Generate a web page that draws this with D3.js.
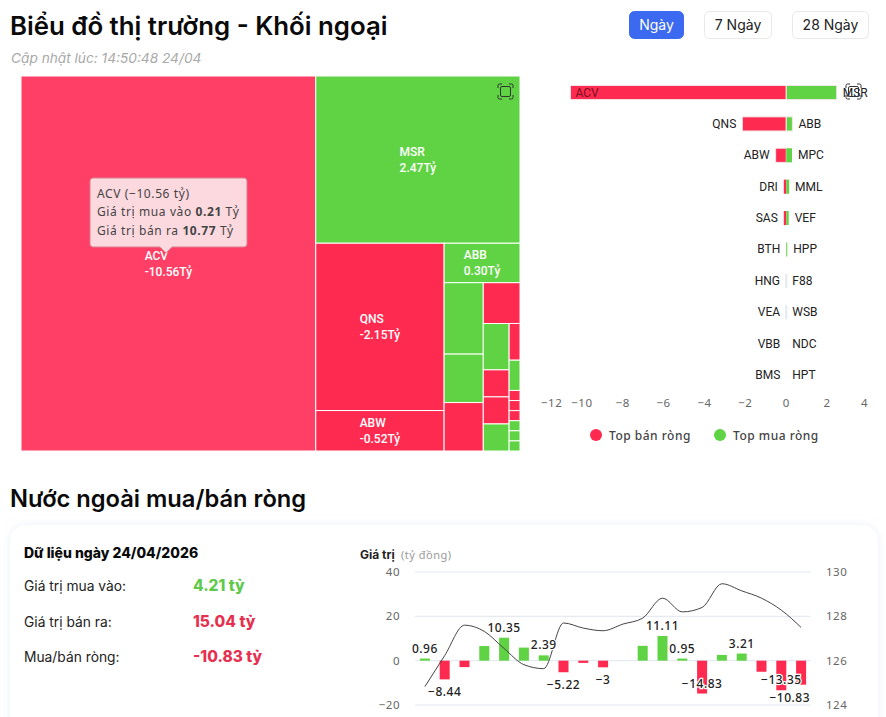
<!DOCTYPE html>
<html lang="vi">
<head>
<meta charset="utf-8">
<script src="https://cdn.jsdelivr.net/npm/d3@7"></script>
<style>
  html, body { margin: 0; padding: 0; background: #fff; overflow: hidden; }
  svg { display: block; font-family: Inter, sans-serif; }
  .lbl { font-family: Roboto, sans-serif; }
  .soft { font-family: "Noto Sans", sans-serif; letter-spacing: .5px; }
</style>
</head>
<body>
<svg id="chart" width="886" height="717"></svg>
<script>
var red = "#ff2a50", redHover = "#ff3f66", green = "#5fd343"

// treemap tiles, area in ty (not the same as net value)
var tileNames = ["ACV", "MSR", "QNS", "ABW", "ABB", "MPC", "MML", "DRI", "SAS", "VEF", "BTH", "HNG", "HPP", "VEA", "F88", "VBB", "BMS", "HUT", "WSB", "NDC", "HPT"]
var tileSizes = [11.07, 3.42, 2.15, 0.52, 0.30, 0.28, 0.19, 0.19, 0.15, 0.12, 0.07, 0.07, 0.07, 0.04, 0.033, 0.011, 0.011, 0.011, 0.011, 0.011, 0.011]
var tileSigns = [-1, 1, -1, -1, 1, 1, 1, -1, -1, 1, -1, -1, 1, -1, 1, -1, -1, -1, 1, 1, 1]
var tileLabels = { ACV: "-10.56Tỷ", MSR: "2.47Tỷ", QNS: "-2.15Tỷ", ABW: "-0.52Tỷ", ABB: "0.30Tỷ" }
// how many tiles go in each strip of the treemap, strips alternate column / row
var tileStrips = [1, 1, 2, 1, 3, 1, 4, 8]

// top sell / top buy bars
var sellNames = ["ACV", "QNS", "ABW", "DRI", "SAS", "BTH", "HNG", "VEA", "VBB", "BMS"]
var sellValues = [-10.56, -2.15, -0.52, -0.12, -0.12, 0, -0.01, -0.01, 0, 0]
var buyNames = ["MSR", "ABB", "MPC", "MML", "VEF", "HPP", "F88", "WSB", "NDC", "HPT"]
var buyValues = [2.47, 0.30, 0.28, 0.14, 0.12, 0.05, 0, 0, 0, 0]
var barTicks = [-12, -10, -8, -6, -4, -2, 0, 2, 4]

// foreign net flow
var netValues = [0.96, -8.44, -2.9, 6.6, 10.35, 5.9, 2.39, -5.22, -1, -3, 0, 6.7, 11.11, 0.95, -14.83, 2.6, 3.21, -5, -13.35, -10.83]
var priceValues = [124.83, 126.23, 127.6, 127.32, 126.55, 125.82, 125.64, 127.7, 127.47, 127.35, 127.65, 127.92, 128.82, 128.2, 128.4, 129.47, 129.15, 128.82, 128.28, 127.5]
var labelled = [0.96, -8.44, 10.35, 2.39, -5.22, -3, 11.11, 0.95, -14.83, 3.21, -13.35, -10.83]
var netTicks = [40, 20, 0, -20]
var priceTicks = [130, 128, 126, 124]

var svg = d3.select("#chart")

function txt(x, y, s, size, weight, fill, cls) {
  return svg.append("text").attr("x", x).attr("y", y).text(s)
    .attr("font-size", size).attr("font-weight", weight).attr("fill", fill)
    .attr("class", cls || null)
}

// headers
txt(10, 35, "Biểu đồ thị trường - Khối ngoại", 25.8, 600, "#0a0a0a")
txt(11, 63, "Cập nhật lúc: 14:50:48 24/04", 13.7, 400, "#a9a9a9").attr("font-style", "italic")
txt(10, 507, "Nước ngoài mua/bán ròng", 23.7, 600, "#0a0a0a")

var buttons = [["Ngày", 629, 55], ["7 Ngày", 704, 68], ["28 Ngày", 792, 77]]
buttons.forEach(function(b, i) {
  svg.append("rect").attr("x", b[1] + .5).attr("y", 11.5).attr("width", b[2] - 1).attr("height", 27).attr("rx", 5)
    .attr("fill", i == 0 ? "#3b69f0" : "#fff").attr("stroke", i == 0 ? "#3b69f0" : "#e8e8ea")
  txt(b[1] + b[2] / 2, 30, b[0], 14, 400, i == 0 ? "#fff" : "#222").attr("text-anchor", "middle")
})

// treemap
function stripTile(parent, x0, y0, x1, y1) {
  var nodes = parent.children, start = 0
  var left = d3.sum(nodes, function(d) { return d.value })
  tileStrips.forEach(function(count, i) {
    var strip = { children: nodes.slice(start, start + count), value: 0 }
    strip.value = d3.sum(strip.children, function(d) { return d.value })
    var share = strip.value / left
    if (i % 2 == 0 || i == tileStrips.length - 1) {
      var xm = x0 + (x1 - x0) * share
      d3.treemapSlice(strip, x0, y0, xm, y1)
      x0 = xm
    } else {
      var ym = y0 + (y1 - y0) * share
      d3.treemapDice(strip, x0, y0, x1, ym)
      y0 = ym
    }
    left -= strip.value
    start += count
  })
}
var tileData = tileNames.map(function(n, i) { return { name: n, size: tileSizes[i], sign: tileSigns[i] } })
var root = d3.hierarchy({ children: tileData }).sum(function(d) { return d.size })
  .sort(function(a, b) { return b.value - a.value })
d3.treemap().size([499, 375]).tile(stripTile)(root)

var tree = svg.append("g").attr("transform", "translate(21,76)")
var tiles = tree.selectAll("g").data(root.leaves()).enter().append("g")
tiles.append("rect")
  .attr("x", function(d) { return d.x0 }).attr("y", function(d) { return d.y0 })
  .attr("width", function(d) { return d.x1 - d.x0 }).attr("height", function(d) { return d.y1 - d.y0 })
  .attr("stroke", "#fff").attr("stroke-width", 1)
  .attr("fill", function(d) {
    if (d.data.name == "ACV") return redHover
    return d.data.sign < 0 ? red : green
  })
tiles.filter(function(d) { return tileLabels[d.data.name] }).each(function(d) {
  var g = d3.select(this), cx = (d.x0 + d.x1) / 2, cy = (d.y0 + d.y1) / 2
  var t = g.append("text").attr("class", "lbl").attr("font-size", 12).attr("font-weight", 500).attr("fill", "#fff")
  t.append("tspan").attr("dy", 0).attr("y", cy - 4).text(d.data.name)
  var v = t.append("tspan").attr("y", cy + 12).text(tileLabels[d.data.name])
  var w = v.node().getComputedTextLength()
  t.selectAll("tspan").attr("x", cx - w / 2)
})

function focusIcon(x, y) {
  var g = svg.append("g").attr("transform", "translate(" + x + "," + y + ")")
    .attr("fill", "none").attr("stroke", "#333").attr("stroke-width", 1)
  g.append("path").attr("d", "M0 4V1.5Q0 0 1.5 0H4M11 0H13.5Q15 0 15 1.5V4M15 11V13.5Q15 15 13.5 15H11M4 15H1.5Q0 15 0 13.5V11")
  g.append("rect").attr("x", 2.5).attr("y", 2.5).attr("width", 10).attr("height", 10).attr("rx", 1.5)
}
focusIcon(498, 84)

// tooltip
var tip = svg.append("g").attr("transform", "translate(90,178)")
tip.append("path").attr("d", "M3 0H154Q157 0 157 3V66Q157 69 154 69H82L76 75L70 69H3Q0 69 0 66V3Q0 0 3 0Z")
  .attr("fill", "#fcd8df").attr("stroke", "#d9808f").attr("stroke-width", 1)
function tipLine(y, parts) {
  var t = tip.append("text").attr("class", "soft").attr("x", 7).attr("y", y).attr("font-size", 12).attr("fill", "#444")
    .style("letter-spacing", ".6px")
  parts.forEach(function(p) {
    t.append("tspan").text(p[0]).attr("font-weight", p[1] ? 700 : 400)
  })
}
tipLine(20, [["ACV (−10.56 tỷ)"]])
tipLine(38, [["Giá trị mua vào "], ["0.21", 1], [" Tỷ"]])
tipLine(57, [["Giá trị bán ra "], ["10.77", 1], [" Tỷ"]])

// top sell / buy bars
var x = d3.scaleLinear().domain([-12, 4]).range([541, 868])
var y = d3.scaleBand().domain(d3.range(10)).range([77, 390.5]).paddingInner(.55).paddingOuter(.27)
var bars = svg.append("g")
function barRows(names, values, color, side) {
  names.forEach(function(n, i) {
    var v = values[i], left = Math.min(x(v), x(0)), w = Math.abs(x(v) - x(0))
    // zero values have no bar, tiny ones only show as a faint line
    if (v != 0) {
      var thin = w < 1
      bars.append("rect").attr("x", thin ? x(0) - 1 : left).attr("y", y(i)).attr("width", thin ? 2 : w).attr("height", y.bandwidth())
        .attr("fill", thin ? "#e3e9f0" : color).attr("stroke", w < 6 ? "none" : "#f3e6ea")
    }
    var yc = y(i) + y.bandwidth() / 2 + 4
    if (v < -10) {
      bars.append("text").attr("class", "lbl").attr("x", x(v) + 5).attr("y", yc).attr("font-size", 12).attr("fill", "#7a1020").text(n)
    } else if (side < 0) {
      bars.append("text").attr("class", "lbl").attr("x", x(v) - 6).attr("y", yc).attr("font-size", 12).attr("fill", "#222")
        .attr("text-anchor", "end").text(n)
    } else {
      bars.append("text").attr("class", "lbl").attr("x", x(v) + 6).attr("y", yc).attr("font-size", 12).attr("fill", "#222").text(n)
    }
  })
}
barRows(sellNames, sellValues, red, -1)
barRows(buyNames, buyValues, green, 1)
focusIcon(846, 84)

barTicks.forEach(function(t, i) {
  var anchor = i == 0 ? "start" : i == barTicks.length - 1 ? "end" : "middle"
  txt(x(t), 407, d3.format("d")(t).replace("-", "−"), 11.5, 400, "#666", "soft").attr("text-anchor", anchor)
})

// legend
var legend = [["Top bán ròng", red, 596], ["Top mua ròng", green, 720]]
legend.forEach(function(l) {
  svg.append("circle").attr("cx", l[2]).attr("cy", 435).attr("r", 6).attr("fill", l[1])
  txt(l[2] + 13, 440, l[0], 12, 500, "#444", "soft")
})

// card
svg.append("defs").append("filter").attr("id", "shadow").attr("x", "-5%").attr("y", "-10%").attr("width", "110%").attr("height", "130%")
  .append("feDropShadow").attr("dx", 0).attr("dy", 0).attr("stdDeviation", 5).attr("flood-color", "#dfe6f2").attr("flood-opacity", .6)
svg.append("rect").attr("x", 10).attr("y", 525).attr("width", 868).attr("height", 230).attr("rx", 16).attr("fill", "#fff").attr("filter", "url(#shadow)")

txt(24, 558, "Dữ liệu ngày 24/04/2026", 14, 800, "#0a0a0a")
var stats = [["Giá trị mua vào:", "4.21 tỷ", "#5fc94a", 591], ["Giá trị bán ra:", "15.04 tỷ", "#e6304f", 627], ["Mua/bán ròng:", "-10.83 tỷ", "#e6304f", 662]]
stats.forEach(function(s) {
  txt(24, s[3], s[0], 13.8, 400, "#222")
  txt(193, s[3], s[1], 15.5, 800, s[2])
})

// net flow chart
txt(360, 559, "Giá trị", 12, 700, "#222")
txt(401, 559, "(tỷ đồng)", 11, 400, "#999", "soft")

var cx = d3.scaleBand().domain(d3.range(netValues.length)).range([415, 811])
var yNet = d3.scaleLinear().domain([-20, 40]).range([705, 572])
var yPrice = d3.scaleLinear().domain([124, 130]).range([705, 572])

netTicks.forEach(function(t) {
  svg.append("line").attr("x1", 415).attr("x2", 811).attr("y1", yNet(t)).attr("y2", yNet(t)).attr("stroke", "#e0e6f1")
  txt(400, yNet(t) + 4, String(t).replace("-", "−"), 11.5, 400, "#666", "soft").attr("text-anchor", "end")
})
priceTicks.forEach(function(t) {
  txt(826, yPrice(t) + 4, t, 11.5, 400, "#666", "soft")
})

svg.append("g").selectAll("rect").data(netValues).enter().append("rect")
  .attr("x", function(d, i) { return cx(i) + cx.bandwidth() / 2 - 5 })
  .attr("y", function(d) { return Math.min(yNet(d), yNet(0)) })
  .attr("width", 10)
  .attr("height", function(d) { return Math.abs(yNet(d) - yNet(0)) })
  .attr("fill", function(d) { return d < 0 ? red : green })

var line = d3.line().curve(d3.curveMonotoneX)
  .x(function(d, i) { return cx(i) + cx.bandwidth() / 2 })
  .y(function(d) { return yPrice(d) })
svg.append("path").attr("d", line(priceValues)).attr("fill", "none").attr("stroke", "#444").attr("stroke-width", 1)

// value labels, pushed back inside the plot when they would overflow
netValues.forEach(function(v, i) {
  if (labelled.indexOf(v) < 0) return
  var ly = v < 0 ? yNet(v) + 17 : yNet(v) - 6
  if (ly > 702) ly = yNet(v) - 6
  var t = svg.append("text").attr("class", "soft").attr("y", ly).attr("font-size", 12).attr("font-weight", 500).attr("fill", "#222")
    .attr("stroke", "#fff").attr("stroke-width", 2.5).attr("paint-order", "stroke").attr("text-anchor", "middle")
    .text(String(v).replace("-", "−"))
  var w = t.node().getComputedTextLength(), px = cx(i) + cx.bandwidth() / 2
  t.attr("x", Math.min(px, 810 - w / 2))
})
</script>
</body>
</html>
